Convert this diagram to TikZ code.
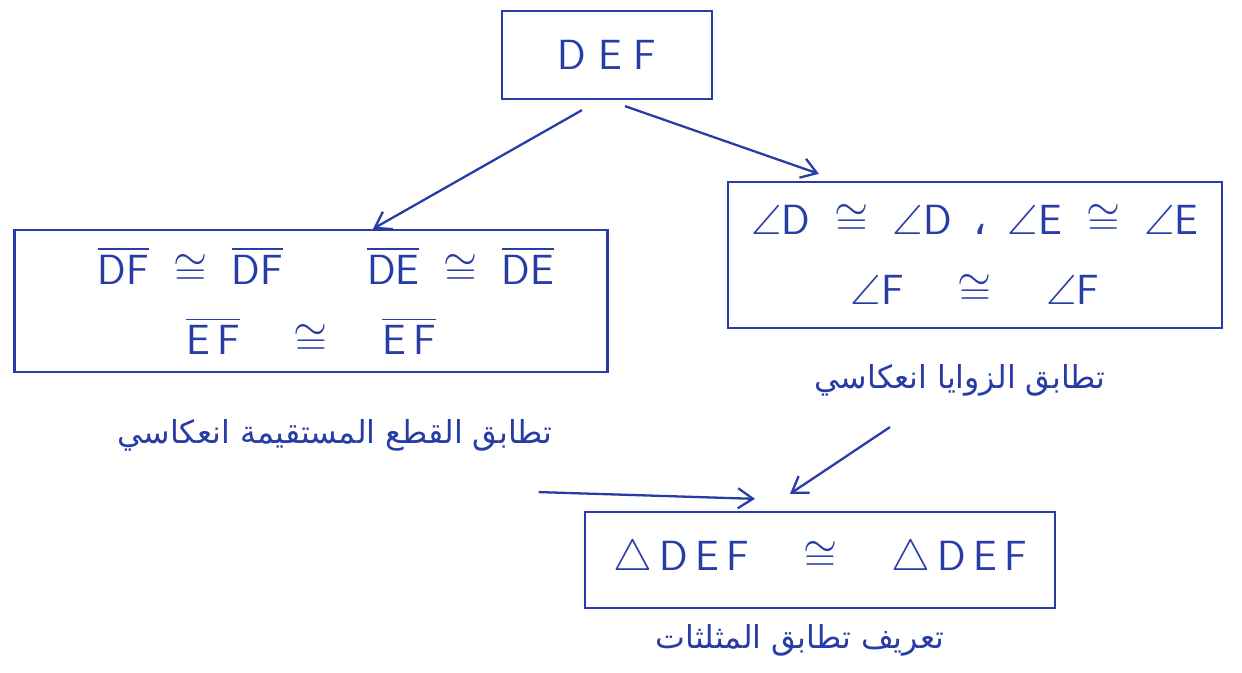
\documentclass[tikz,border=0pt]{standalone}
\usepackage{fontspec}
\usepackage{amsmath,amssymb}
\usepackage{tikz}
\usetikzlibrary{positioning,calc,arrows.meta}
\newfontfamily\arabicfont[Script=Arabic]{DejaVu Sans}
\TeXXeTstate=1
\definecolor{inkblue}{RGB}{40,60,165}
\newcommand{\seg}[1]{\overline{\mathsf{#1}}}
\newcommand{\ang}[1]{\angle\mathsf{#1}}

\begin{document}
\begin{tikzpicture}[
  box/.style={draw=inkblue,line width=1.3pt,color=inkblue,align=center,
              font=\fontsize{24}{40}\selectfont,inner sep=0pt},
  lbl/.style={color=inkblue,font=\fontsize{18}{22}\selectfont\arabicfont},
  arr/.style={-{Straight Barb[length=3mm,width=4mm]},line width=1.3pt,color=inkblue}]
  \useasboundingbox (0,0) rectangle (24.84,13.46);
  \node[box,minimum width=4.2cm,minimum height=1.76cm] (tri) at (12.14,12.36) {$\mathsf{D\;E\;F}$};
  \node[box,minimum width=11.86cm,minimum height=2.84cm] (sides) at (6.22,7.44)
    {\hspace*{0.6cm}$\seg{DF}\;\cong\;\seg{DF}\qquad\seg{DE}\;\cong\;\seg{DE}$\\
     $\seg{E\,F}\quad\cong\quad\seg{E\,F}$};
  \node[box,minimum width=9.88cm,minimum height=2.92cm] (angles) at (19.5,8.36)
    {$\ang{D}\;\cong\;\ang{D}$\enspace{\arabicfont ،}\enspace$\ang{E}\;\cong\;\ang{E}$\\
     $\ang{F}\quad\cong\quad\ang{F}$};
  \node[box,minimum width=9.4cm,minimum height=1.92cm] (congr) at (16.4,2.26)
    {$\triangle\,\mathsf{D\,E\,F}\quad\cong\quad\triangle\,\mathsf{D\,E\,F}$};
  % reasons under the boxes
  \node[lbl] (slbl) at (6.7,4.76)  {\beginR تطابق القطع المستقيمة انعكاسي\endR};
  \node[lbl] (albl) at (19.2,5.86) {\beginR تطابق الزوايا انعكاسي\endR};
  \node[lbl] (clbl) at (16.0,0.66) {\beginR تعريف تطابق المثلثات\endR};
  \draw[arr] ([xshift=-0.5cm,yshift=-0.2cm]tri.south) -- ([xshift=1.24cm]sides.north);
  \draw[arr] ([xshift=0.36cm,yshift=-0.12cm]tri.south) -- ([xshift=1.84cm,yshift=0.14cm]angles.north west);
  \draw[arr] ([xshift=-1.4cm,yshift=-0.5cm]albl.south) -- ([xshift=-0.6cm,yshift=0.34cm]congr.north);
  \draw[arr] ([xshift=-0.4cm,yshift=-0.7cm]slbl.south east) -- ([xshift=-1.3cm,yshift=0.24cm]congr.north);
\end{tikzpicture}
\end{document}
